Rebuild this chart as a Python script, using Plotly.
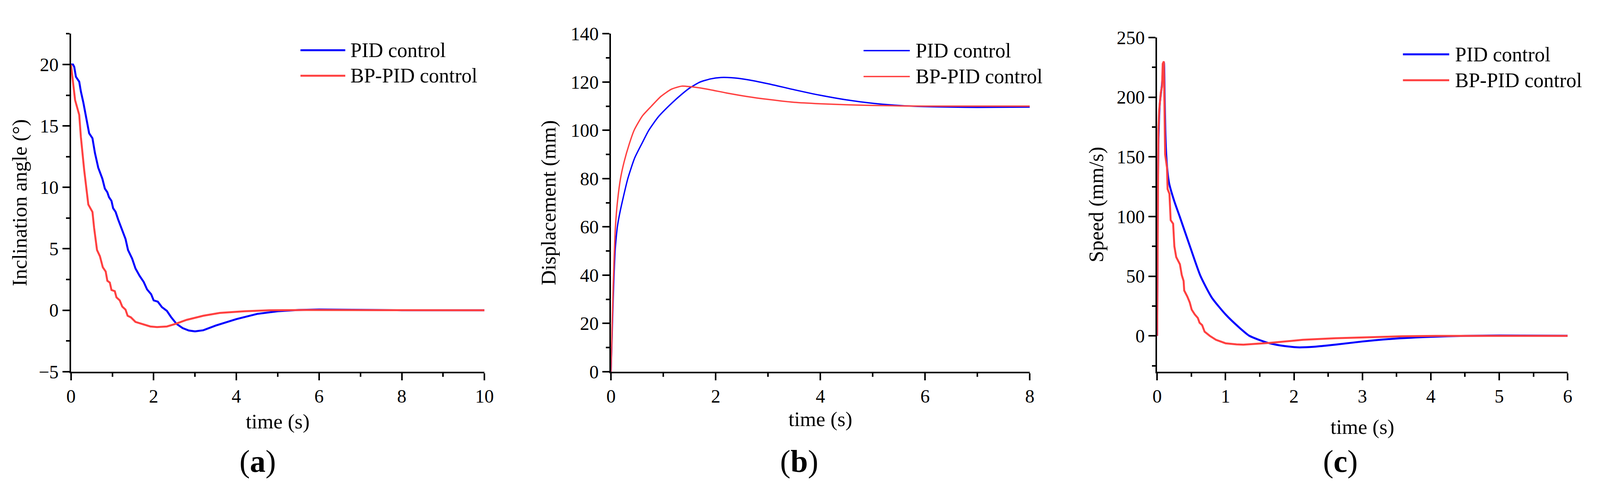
import plotly.graph_objects as go
from plotly.subplots import make_subplots

# (a) inclination angle
t_a_pid = [0, 0.05, 0.08, 0.12, 0.2, 0.24, 0.3, 0.36, 0.44, 0.52, 0.58, 0.66, 0.76, 0.82, 0.88,
           0.92, 0.98, 1.02, 1.08, 1.14, 1.2, 1.26, 1.32, 1.38, 1.48, 1.56, 1.66, 1.76, 1.84, 1.94,
           2.0, 2.1, 2.2, 2.32, 2.42, 2.55, 2.7, 2.85, 3.0, 3.2, 3.5, 4.0, 4.5, 5.0, 5.5, 6.0,
           6.8, 8.0, 10]
angle_pid = [20, 20, 19.8, 19.0, 18.6, 17.8, 16.9, 15.9, 14.4, 14.0, 12.8, 11.6, 10.7, 9.9, 9.6,
             9.2, 8.9, 8.3, 8.0, 7.4, 6.9, 6.3, 5.8, 4.9, 4.2, 3.4, 2.8, 2.3, 1.7, 1.3,
             0.8, 0.7, 0.25, -0.05, -0.55, -1.1, -1.45, -1.65, -1.72, -1.63, -1.25, -0.72, -0.3,
             -0.08, 0.02, 0.06, 0.04, 0.0, 0.0]
t_a_bp = [0, 0.04, 0.1, 0.2, 0.24, 0.32, 0.42, 0.52, 0.56, 0.63, 0.7, 0.77, 0.84, 0.88, 0.94,
          0.98, 1.06, 1.1, 1.18, 1.24, 1.32, 1.37, 1.45, 1.56, 1.68, 1.8, 1.92, 2.08, 2.32,
          2.52, 2.8, 3.2, 3.6, 4.2, 4.8, 5.6, 10]
angle_bp = [20, 18.8, 17.1, 15.9, 14.1, 11.4, 8.6, 8.0, 6.7, 4.9, 4.4, 3.5, 3.15, 2.4, 2.25,
            1.65, 1.55, 1.05, 0.8, 0.3, 0.05, -0.45, -0.58, -0.95, -1.08, -1.2, -1.32, -1.37,
            -1.32, -1.12, -0.78, -0.45, -0.22, -0.08, 0.0, 0.02, 0.0]

# (b) displacement
t_b_pid = [0, 0.02, 0.04, 0.06, 0.08, 0.1, 0.12, 0.16, 0.22, 0.32, 0.45, 0.6, 0.72, 0.9, 1.1,
           1.3, 1.5, 1.7, 1.9, 2.1, 2.3, 2.6, 3.0, 3.5, 4.0, 4.5, 5.0, 5.5, 6.0, 6.5, 7.0, 8.0]
disp_pid = [0, 15, 30, 42, 51, 56, 60, 65, 71, 80, 88.5, 95, 100, 105.5, 110,
            114, 117.5, 120, 121.3, 121.9, 121.8, 121, 119.3, 116.8, 114.5, 112.6, 111.2,
            110.3, 109.8, 109.6, 109.5, 109.6]
t_b_bp = [0, 0.02, 0.04, 0.06, 0.083, 0.12, 0.18, 0.25, 0.35, 0.44, 0.6, 0.77, 0.95, 1.15,
          1.35, 1.5, 1.8, 2.2, 2.6, 3.0, 3.5, 4.0, 4.5, 5.0, 6.0, 8.0]
disp_bp = [0, 18, 35, 48, 60, 70, 80, 87, 94.5, 100, 106, 110, 114, 117,
           118.3, 118.1, 117.2, 115.5, 114, 112.8, 111.6, 111, 110.6, 110.3, 110, 110]

# (c) speed
t_c_pid = [0, 0.01, 0.02, 0.04, 0.07, 0.09, 0.1, 0.11, 0.12, 0.135, 0.155, 0.175, 0.25, 0.33,
           0.48, 0.635, 0.8, 1.0, 1.2, 1.35, 1.6, 1.8, 2.05, 2.3, 2.6, 3.0, 3.5, 4.0, 4.5,
           5.0, 6.0]
speed_pid = [0, 115, 165, 195, 210, 225, 229, 200, 172, 150, 136, 128, 113, 100,
             75, 50, 32, 18, 7, 0, -5.5, -8, -9.6, -9.1, -7.4, -4.7, -2.2, -0.8, 0,
             0.3, 0.1]
t_c_bp = [0, 0.008, 0.018, 0.03, 0.054, 0.072, 0.082, 0.098, 0.108, 0.117, 0.144, 0.153,
          0.18, 0.198, 0.234, 0.252, 0.279, 0.333, 0.36, 0.387, 0.396, 0.441, 0.477, 0.505,
          0.55, 0.595, 0.62, 0.658, 0.694, 0.77, 0.86, 1.0, 1.16, 1.26, 1.64, 2.13, 2.61,
          3.1, 3.58, 4.07, 6.0]
speed_bp = [0, 118, 172, 189, 204, 209, 228, 230, 200, 152, 141, 123,
            119, 97, 94, 75, 66, 60, 51, 46, 38, 33, 28, 22,
            18, 15, 11, 9, 3.5, 0, -3.3, -6.2, -7.1, -7.4, -5.9, -3.3, -2.0,
            -1.0, -0.3, 0, 0]

names = ["PID control", "BP-PID control"]
colors = ["#0000ff", "#ff4040"]
y_titles = ["Inclination angle (°)", "Displacement (mm)", "Speed (mm/s)"]
panel_labels = ["(<b>a</b>)", "(<b>b</b>)", "(<b>c</b>)"]

# reference picture size, used to turn pixel positions into paper fractions
W, H = 4284, 1274
FONT = "Liberation Serif, Times New Roman, serif"


def px_x(v):
    return v / W


def px_y(v):
    return 1 - v / H


fig = make_subplots(rows=1, cols=3)

series = [
    (t_a_pid, angle_pid, t_a_bp, angle_bp, 5, "linear", "linear"),
    (t_b_pid, disp_pid, t_b_bp, disp_bp, 3.5, "spline", "spline"),
    (t_c_pid, speed_pid, t_c_bp, speed_bp, 5, "spline", "linear"),
]
for i, (tp, yp, tb, yb, lw, shape_p, shape_b) in enumerate(series):
    fig.add_trace(go.Scatter(x=tp, y=yp, mode="lines", name=names[0], showlegend=False,
                             line=dict(color=colors[0], width=lw, shape=shape_p,
                                       smoothing=0.6)), row=1, col=i + 1)
    fig.add_trace(go.Scatter(x=tb, y=yb, mode="lines", name=names[1], showlegend=False,
                             line=dict(color=colors[1], width=lw, shape=shape_b,
                                       smoothing=0.6)), row=1, col=i + 1)

# panel geometry in pixels: left, right, top, bottom
boxes = [(179, 1296, 63, 965), (1638, 2769, 63, 965), (3113, 4222, 73, 965)]
x_ranges = [[0, 10], [0, 8], [0, 6]]
x_dticks = [2, 2, 1]
y_ranges = [[-5, 22.5], [0, 140], [-30, 250]]
y_dticks = [5, 20, 50]
y_title_standoff = [14, 22, 18]
x_title_standoff = [20, 14, 34]

axis_common = dict(showline=True, linecolor="black", linewidth=4, ticks="outside",
                   ticklen=18, tickwidth=3.5, tickcolor="black", showgrid=False,
                   zeroline=False, mirror=False,
                   tickfont=dict(family=FONT, size=48, color="black"))

for i in range(3):
    l, r, t, b = boxes[i]
    fig.update_xaxes(row=1, col=i + 1, domain=[px_x(l), px_x(r)], range=x_ranges[i],
                     dtick=x_dticks[i], tick0=0,
                     minor=dict(dtick=x_dticks[i] / 2, ticks="outside", ticklen=9,
                                tickwidth=3.5, tickcolor="black"),
                     title=dict(text="time (s)", standoff=x_title_standoff[i],
                                font=dict(family=FONT, size=53, color="black")),
                     **axis_common)
    fig.update_yaxes(row=1, col=i + 1, domain=[px_y(b), px_y(t)], range=y_ranges[i],
                     dtick=y_dticks[i], tick0=0,
                     minor=dict(dtick=y_dticks[i] / 2, ticks="outside", ticklen=9,
                                tickwidth=3.5, tickcolor="black"),
                     title=dict(text=y_titles[i], standoff=y_title_standoff[i],
                                font=dict(family=FONT, size=53, color="black")),
                     **axis_common)

# legends drawn per panel: line sample + label
legend_pos = [(799, 920, 932, 107, 175, 5), (2320, 2445, 2459, 108, 177, 3.5),
              (3777, 3902, 3916, 118, 187, 5)]
for (x0, x1, xt, r1, r2, lw) in legend_pos:
    for k, yrow in enumerate([r1, r2]):
        fig.add_shape(type="line", xref="paper", yref="paper",
                      x0=px_x(x0), x1=px_x(x1), y0=px_y(yrow), y1=px_y(yrow),
                      line=dict(color=colors[k], width=lw))
        fig.add_annotation(xref="paper", yref="paper", x=px_x(xt), y=px_y(yrow),
                           xanchor="left", yanchor="middle", showarrow=False,
                           text=names[k], font=dict(family=FONT, size=52, color="black"))

# panel labels
label_x = [683, 2146, 3608]
for i in range(3):
    fig.add_annotation(xref="paper", yref="paper", x=px_x(label_x[i]), y=px_y(1205),
                       xanchor="center", yanchor="middle", showarrow=False,
                       text=panel_labels[i], font=dict(family=FONT, size=80, color="black"))

# size follows the browser window so nothing gets cut at the right edge
fig.update_layout(autosize=True, margin=dict(l=0, r=0, t=0, b=0),
                  plot_bgcolor="white", paper_bgcolor="white", showlegend=False,
                  font=dict(family=FONT, color="black"))

fig.write_html("out.html", default_width="100vw", default_height="100vh",
               config={"displayModeBar": False},
               post_script="document.body.style.margin='0';"
                           "document.body.style.overflow='hidden';")
